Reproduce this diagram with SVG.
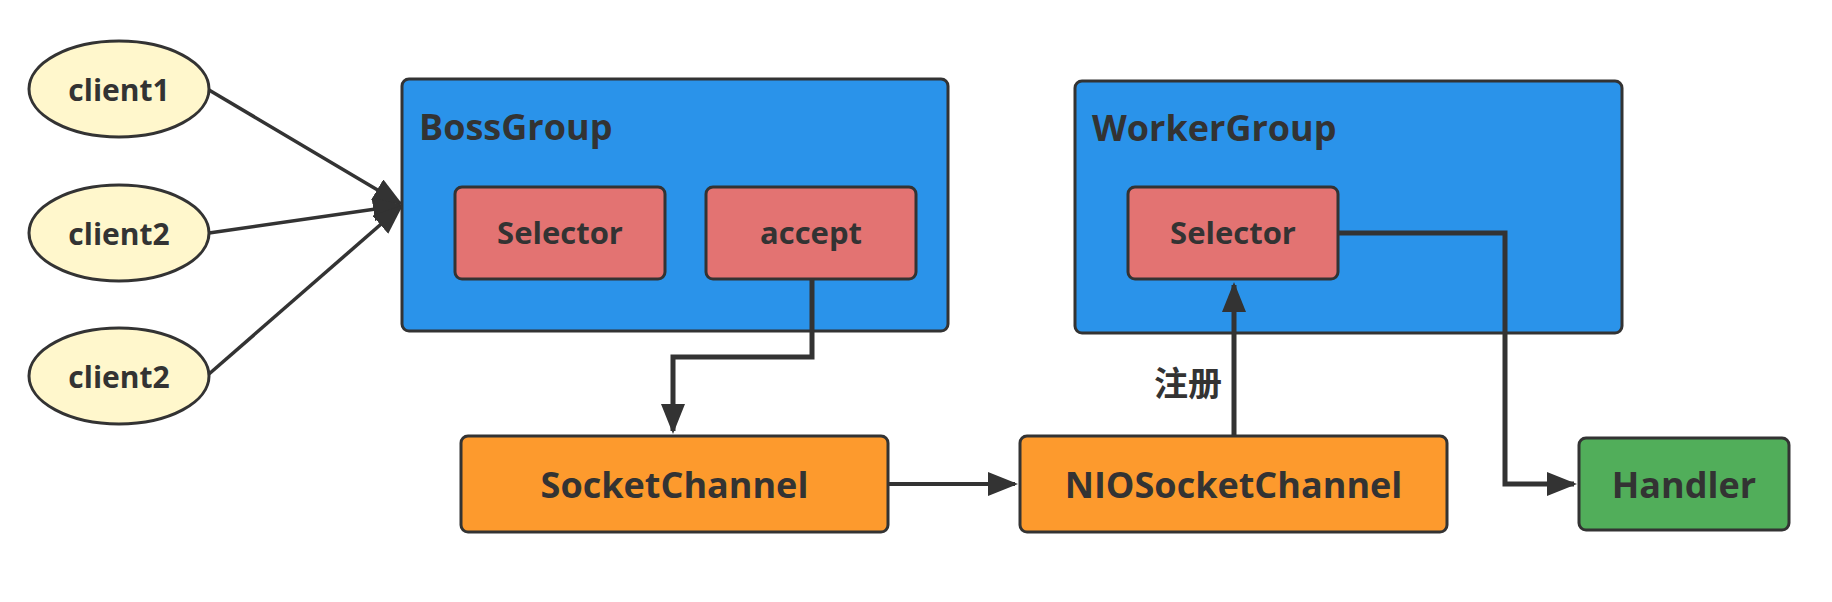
<svg xmlns="http://www.w3.org/2000/svg" width="1832" height="602" viewBox="0 0 1832 602">
<defs>
<style>
.lbl{font-family:"Open Sans","Noto Sans","Noto Sans CJK SC",sans-serif;font-weight:bold;fill:#333333}
.client{fill:#fff7cc;stroke:#333333;stroke-width:3}
.group{fill:#2a93ea;stroke:#333333;stroke-width:3}
.sel{fill:#e37372;stroke:#333333;stroke-width:3}
.chan{fill:#fd9a2d;stroke:#333333;stroke-width:3}
.hand{fill:#51ae5a;stroke:#333333;stroke-width:3}
.conn{fill:none;stroke:#333333;stroke-width:5}
.mid{fill:none;stroke:#333333;stroke-width:4}
.thin{fill:none;stroke:#333333;stroke-width:3.5}
</style>
<marker id="arr" viewBox="0 0 30 24" refX="27" refY="12" markerWidth="30" markerHeight="24" markerUnits="userSpaceOnUse" orient="auto">
<path d="M0,0 L30,12 L0,24 z" fill="#333333"/>
</marker>
</defs>
<rect width="1832" height="602" fill="#ffffff"/>

<g id="client1">
<ellipse class="client" cx="119" cy="89" rx="90" ry="48"/>
<text class="lbl" x="119" y="101" font-size="30" text-anchor="middle">client1</text>
</g>
<g id="client2a">
<ellipse class="client" cx="119" cy="233" rx="90" ry="48"/>
<text class="lbl" x="119" y="245" font-size="30" text-anchor="middle">client2</text>
</g>
<g id="client2b">
<ellipse class="client" cx="119" cy="376" rx="90" ry="48"/>
<text class="lbl" x="119" y="388" font-size="30" text-anchor="middle">client2</text>
</g>

<g id="bossgroup">
<rect class="group" x="402" y="79" width="546" height="252" rx="7"/>
<text class="lbl" x="419" y="140" font-size="36">BossGroup</text>
</g>
<g id="boss-selector">
<rect class="sel" x="455" y="187" width="210" height="92" rx="7"/>
<text class="lbl" x="560" y="244" font-size="31" text-anchor="middle">Selector</text>
</g>
<g id="accept">
<rect class="sel" x="706" y="187" width="210" height="92" rx="7"/>
<text class="lbl" x="811" y="244" font-size="31" text-anchor="middle">accept</text>
</g>

<g id="workergroup">
<rect class="group" x="1075" y="81" width="547" height="252" rx="7"/>
<text class="lbl" x="1092" y="141" font-size="36">WorkerGroup</text>
</g>
<g id="worker-selector">
<rect class="sel" x="1128" y="187" width="210" height="92" rx="7"/>
<text class="lbl" x="1233" y="244" font-size="31" text-anchor="middle">Selector</text>
</g>

<g id="socketchannel">
<rect class="chan" x="461" y="436" width="427" height="96" rx="7"/>
<text class="lbl" x="674.5" y="498" font-size="36" text-anchor="middle">SocketChannel</text>
</g>
<g id="niosocketchannel">
<rect class="chan" x="1020" y="436" width="427" height="96" rx="7"/>
<text class="lbl" x="1233.5" y="498" font-size="36" text-anchor="middle">NIOSocketChannel</text>
</g>
<g id="handler">
<rect class="hand" x="1579" y="438" width="210" height="92" rx="7"/>
<text class="lbl" x="1684" y="498" font-size="36" text-anchor="middle">Handler</text>
</g>

<g id="connectors">
<path class="thin" d="M209,90 L400.4,203.5" marker-end="url(#arr)"/>
<path class="thin" d="M209,233 L400,205.4" marker-end="url(#arr)"/>
<path class="thin" d="M209,374 L400.7,207" marker-end="url(#arr)"/>
<path class="conn" d="M812,279 V357 H673 V431" marker-end="url(#arr)"/>
<path class="mid" d="M888,484 H1015" marker-end="url(#arr)"/>
<path class="conn" d="M1234,436 V285" marker-end="url(#arr)"/>
<path class="conn" d="M1338,233 H1505 V484 H1574" marker-end="url(#arr)"/>
<text class="lbl" x="1154" y="396" font-size="34">注册</text>
</g>
</svg>
